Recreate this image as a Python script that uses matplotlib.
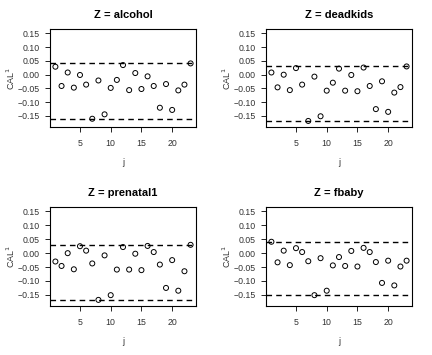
import numpy as np
import matplotlib
matplotlib.use("Agg")
import matplotlib.pyplot as plt

plt.rcParams["font.family"] = ["Liberation Sans", "DejaVu Sans"]

j = np.arange(1, 24)

alcohol = [0.029, -0.041, 0.008, -0.047, -0.001, -0.036, -0.160, -0.021, -0.144, -0.048,
           -0.019, 0.035, -0.056, 0.006, -0.052, -0.006, -0.041, -0.120, -0.034, -0.128,
           -0.057, -0.036, 0.041]
deadkids = [0.008, -0.046, 0.000, -0.056, 0.024, -0.036, -0.168, -0.007, -0.151, -0.058,
            -0.029, 0.022, -0.058, -0.001, -0.060, 0.026, -0.041, -0.125, -0.024, -0.135,
            -0.065, -0.045, 0.030]
prenatal1 = [-0.030, -0.046, 0.000, -0.058, 0.025, 0.009, -0.037, -0.168, -0.008, -0.151,
             -0.059, 0.022, -0.059, -0.002, -0.061, 0.026, 0.004, -0.041, -0.125, -0.025,
             -0.135, -0.065, 0.030]
fbaby = [0.041, -0.033, 0.009, -0.043, 0.018, 0.004, -0.029, -0.151, -0.018, -0.135,
         -0.044, -0.014, -0.046, 0.008, -0.048, 0.019, 0.004, -0.032, -0.107, -0.027,
         -0.116, -0.048, -0.027]

names = ["alcohol", "deadkids", "prenatal1", "fbaby"]
series = [alcohol, deadkids, prenatal1, fbaby]
upper = [0.043, 0.030, 0.030, 0.039]
lower = [-0.160, -0.168, -0.168, -0.150]

yticks = [0.15, 0.10, 0.05, 0.00, -0.05, -0.10, -0.15]
ytick_labels = ["0.15", "0.10", "0.05", "0.00", "\u22120.05", "\u22120.10", "\u22120.15"]

W, H = 432, 355
fig = plt.figure(figsize=(W / 100, H / 100), dpi=100)

# axes boxes in pixels: (left, top, right, bottom)
boxes = [(50, 29, 196, 127), (266, 29, 412, 127),
         (50, 207, 196, 306), (266, 207, 412, 306)]

for name, vals, up, lo, (l, t, r, b) in zip(names, series, upper, lower, boxes):
    ax = fig.add_axes([l / W, 1 - b / H, (r - l) / W, (b - t) / H])
    ax.scatter(j, vals, s=13, facecolors="none", edgecolors="black", linewidths=0.7, zorder=3)
    ax.axhline(up, color="black", ls=(0, (4, 3)), lw=1.0)
    ax.axhline(lo, color="black", ls=(0, (4, 3)), lw=1.0)
    ax.set_xlim(0.12, 23.88)
    ax.set_ylim(-0.19, 0.166)
    ax.set_xticks([5, 10, 15, 20])
    ax.set_yticks(yticks)
    ax.set_yticklabels(ytick_labels)
    ax.tick_params(labelsize=6.3, length=3.5, width=0.6, labelcolor="#333333")
    ax.tick_params(axis="x", pad=5)
    ax.tick_params(axis="y", pad=4)
    for s in ax.spines.values():
        s.set_linewidth(0.8)
    ax.set_title("Z = " + name, fontsize=8, fontweight="bold", pad=8)
    ax.set_xlabel("j", fontsize=6.5, color="#333333")
    ax.set_ylabel("CAL$^1$", fontsize=6.5, color="#333333")
    # label positions: "j" ~31px under the box, y label ~33px left of it
    ax.xaxis.set_label_coords(0.5, -31 / (b - t))
    ax.yaxis.set_label_coords(-33 / (r - l), 0.5)

fig.savefig("out.png", dpi=100)
